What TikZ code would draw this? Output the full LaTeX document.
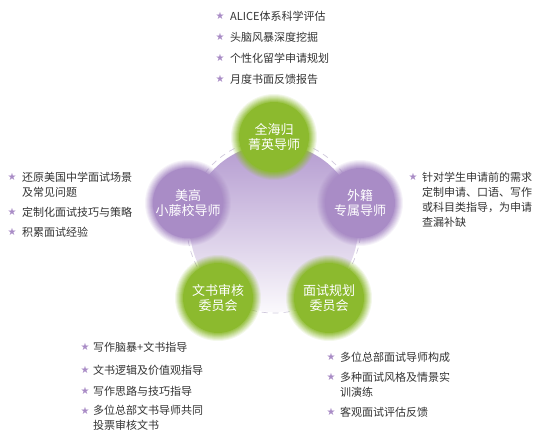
\documentclass[tikz,border=0pt]{standalone}
\usepackage{fontspec}
\setmainfont{Noto Sans CJK SC}
\newfontfamily\starfont{DejaVu Sans}
\definecolor{leaf}{HTML}{8CBA2E}
\definecolor{lilac}{HTML}{A98CC6}
\definecolor{bigtop}{HTML}{B49BD0}
\definecolor{ink}{HTML}{333333}
\definecolor{ringc}{HTML}{CFC8DC}
\newcommand\halo[2]{\foreach \rr/\oo in {43/0.1,42/0.12,41/0.15,40/0.15,39/0.2,38/0.25,37/0.3,36/0.4}{\fill[#2, opacity=\oo] (#1) circle (\rr);}}
\tikzset{
  ball/.style={circle, minimum size=70pt, inner sep=0pt, text=white, font=\fontsize{13}{15.5}\selectfont, align=center},
  item/.style={anchor=west, inner sep=0pt, text=ink, font=\fontsize{11}{15}\selectfont, align=left},
  bullet/.style={inner sep=0pt, text=lilac, font=\starfont\fontsize{10}{10}\selectfont},
}
\begin{document}
\begin{tikzpicture}[x=1pt,y=-1pt]
\useasboundingbox (0,0) rectangle (547,440);
% ring and big circle
\draw[ringc, line width=0.7pt, dash pattern=on 6pt off 5pt] (274,226) circle (87);
\shade[top color=bigtop, middle color=bigtop!50!white, bottom color=bigtop!6!white] (274,228) circle (84);
% balls
\coordinate (ct) at (274,137);
\coordinate (cl) at (188,203);
\coordinate (cr) at (360,203);
\coordinate (cbl) at (218,298);
\coordinate (cbr) at (329,298);
\halo{ct}{leaf}
\node[ball, fill=leaf] (t) at (ct) {全海归\\菁英导师};
\halo{cl}{lilac}
\node[ball, fill=lilac] (l) at (cl) {美高\\小藤校导师};
\halo{cr}{lilac}
\node[ball, fill=lilac] (r) at (cr) {外籍\\专属导师};
\halo{cbl}{leaf}
\node[ball, fill=leaf] (bl) at (cbl) {文书审核\\委员会};
\halo{cbr}{leaf}
\node[ball, fill=leaf] (br) at (cbr) {面试规划\\委员会};
% top list
\node[bullet] (s1) at (220,16) {★};
\node[item] (a1) at (230,16) {ALICE体系科学评估};
\node[bullet] (s2) at (220,37) {★};
\node[item] (a2) at (230,37) {头脑风暴深度挖掘};
\node[bullet] (s3) at (220,58) {★};
\node[item] (a3) at (230,58) {个性化留学申请规划};
\node[bullet] (s4) at (220,79) {★};
\node[item] (a4) at (230,79) {月度书面反馈报告};
% left list
\node[bullet] (s5) at (12,177) {★};
\node[item] (b1) at (22,184.5) {还原美国中学面试场景\\及常见问题};
\node[bullet] (s6) at (12,212) {★};
\node[item] (b2) at (22,212) {定制化面试技巧与策略};
\node[bullet] (s7) at (12,232) {★};
\node[item] (b3) at (22,232) {积累面试经验};
% right list
\node[bullet] (s8) at (413,177) {★};
\node[item] (c1) at (422,199.5) {针对学生申请前的需求\\定制申请、口语、写作\\或科目类指导，为申请\\查漏补缺};
% bottom left list
\node[bullet] (s9) at (85,347) {★};
\node[item] (d1) at (93,347) {写作脑暴+文书指导};
\node[bullet] (s10) at (85,370) {★};
\node[item] (d2) at (93,370) {文书逻辑及价值观指导};
\node[bullet] (s11) at (85,391) {★};
\node[item] (d3) at (93,391) {写作思路与技巧指导};
\node[bullet] (s12) at (85,411) {★};
\node[item] (d4) at (93,418) {多位总部文书导师共同\\投票审核文书};
% bottom right list
\node[bullet] (s13) at (331,357) {★};
\node[item] (e1) at (340,357) {多位总部面试导师构成};
\node[bullet] (s14) at (331,377) {★};
\node[item] (e2) at (340,384.5) {多种面试风格及情景实\\训演练};
\node[bullet] (s15) at (331,412) {★};
\node[item] (e3) at (340,412) {客观面试评估反馈};
\end{tikzpicture}
\end{document}
